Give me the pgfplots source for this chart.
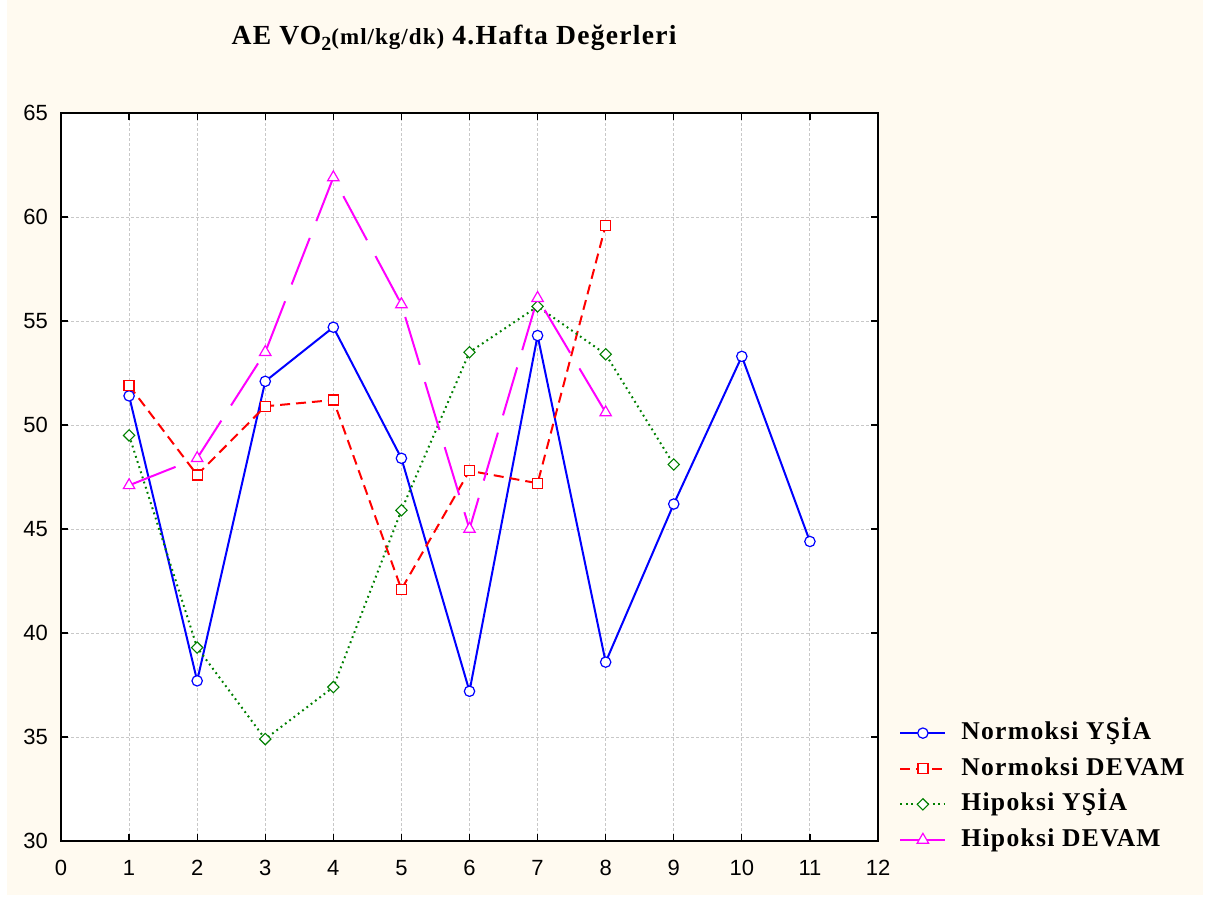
\documentclass[border=0pt]{standalone}
\usepackage{pgfplots}
\pgfplotsset{compat=1.18}
\usepackage{fontspec}
\setmainfont{Liberation Serif}
\newfontfamily\sansfont{Liberation Sans}
\newfontfamily\titlefont[LetterSpace=4.5]{Liberation Serif}
\newfontfamily\legfont[LetterSpace=5]{Liberation Serif}
\definecolor{cream}{RGB}{255,250,240}
\definecolor{dgreen}{RGB}{0,128,0}
\definecolor{mag}{RGB}{255,0,255}
\definecolor{gridc}{RGB}{200,200,200}
\begin{document}
\begin{tikzpicture}
\useasboundingbox (-30.5pt,-30.5pt) rectangle (583pt,420.5pt);
\fill[cream] (-27pt,-27pt) rectangle (571pt,420.5pt);
\begin{axis}[
  at={(0pt,0pt)}, anchor=south west,
  scale only axis, width=408.5pt, height=364pt,
  xmin=0, xmax=12, ymin=30, ymax=65,
  xtick={0,...,12}, ytick={30,35,...,65},
  grid=major,
  major grid style={gridc, line width=0.5pt, dash pattern=on 1.5pt off 1pt},
  tick align=inside, major tick length=3.5pt,
  axis line style={line width=1.1pt},
  tick style={black, line width=0.6pt},
  axis background/.style={fill=white},
  ticklabel style={font=\sansfont\fontsize{11}{13}\selectfont},
  /pgf/number format/assume math mode=true,
  yticklabel style={xshift=-3pt},
  xticklabel style={yshift=-6pt},
  legend cell align=left,
  legend image code/.code={\draw[mark repeat=2,mark phase=2,#1] plot coordinates {(0pt,0pt) (11.25pt,0pt) (22.5pt,0pt)};},
  legend style={at={(rel axis cs:1.0262,0.164)}, anchor=north west, draw=none, fill=none,
    inner sep=0pt, outer sep=0pt, row sep=6.3pt,
    font=\legfont\bfseries\fontsize{12.8}{14}\selectfont,
    nodes={inner sep=0pt, text height=9pt, text depth=2.5pt},
    /tikz/every odd column/.append style={column sep=7.5pt}},
]
\addplot[blue, line width=1pt, mark=*, mark size=2.6pt, mark options={solid, fill=white, line width=0.6pt}]
  coordinates {(1,51.4)(2,37.7)(3,52.1)(4,54.7)(5,48.4)(6,37.2)(7,54.3)(8,38.6)(9,46.2)(10,53.3)(11,44.4)};
\addlegendentry{Normoksi YŞİA}
\addplot[red, line width=1pt, dash pattern=on 5pt off 3pt, mark=square*, mark size=2.5pt, mark options={solid, fill=white, line width=0.6pt}]
  coordinates {(1,51.9)(2,47.6)(3,50.9)(4,51.2)(5,42.1)(6,47.8)(7,47.2)(8,59.6)};
\addlegendentry{Normoksi DEVAM}
\addplot[dgreen, line width=1pt, dash pattern=on 0.9pt off 1.8pt, mark=square*, mark size=2pt, mark options={solid, rotate=45, fill=white, line width=0.55pt}]
  coordinates {(1,49.5)(2,39.3)(3,34.9)(4,37.4)(5,45.9)(6,53.5)(7,55.7)(8,53.4)(9,48.1)};
\addlegendentry{Hipoksi YŞİA}
\addplot[mag, line width=1pt, dash pattern=on 25pt off 9pt, mark=triangle*, mark size=3.3pt, mark options={solid, fill=white, line width=0.6pt}]
  coordinates {(1,47.1)(2,48.4)(3,53.5)(4,61.9)(5,55.8)(6,45.0)(7,56.1)(8,50.6)};
\addlegendentry{Hipoksi DEVAM}
\end{axis}
\node[font=\titlefont\bfseries\fontsize{13.8}{16}\selectfont, anchor=base, inner sep=0pt] at (196.5pt,398pt)
  {AE VO\raisebox{-2.5pt}{\fontsize{10}{12}\selectfont 2}{\fontsize{11.5}{13}\selectfont(ml/kg/dk)} 4.Hafta Değerleri};
\end{tikzpicture}
\end{document}
